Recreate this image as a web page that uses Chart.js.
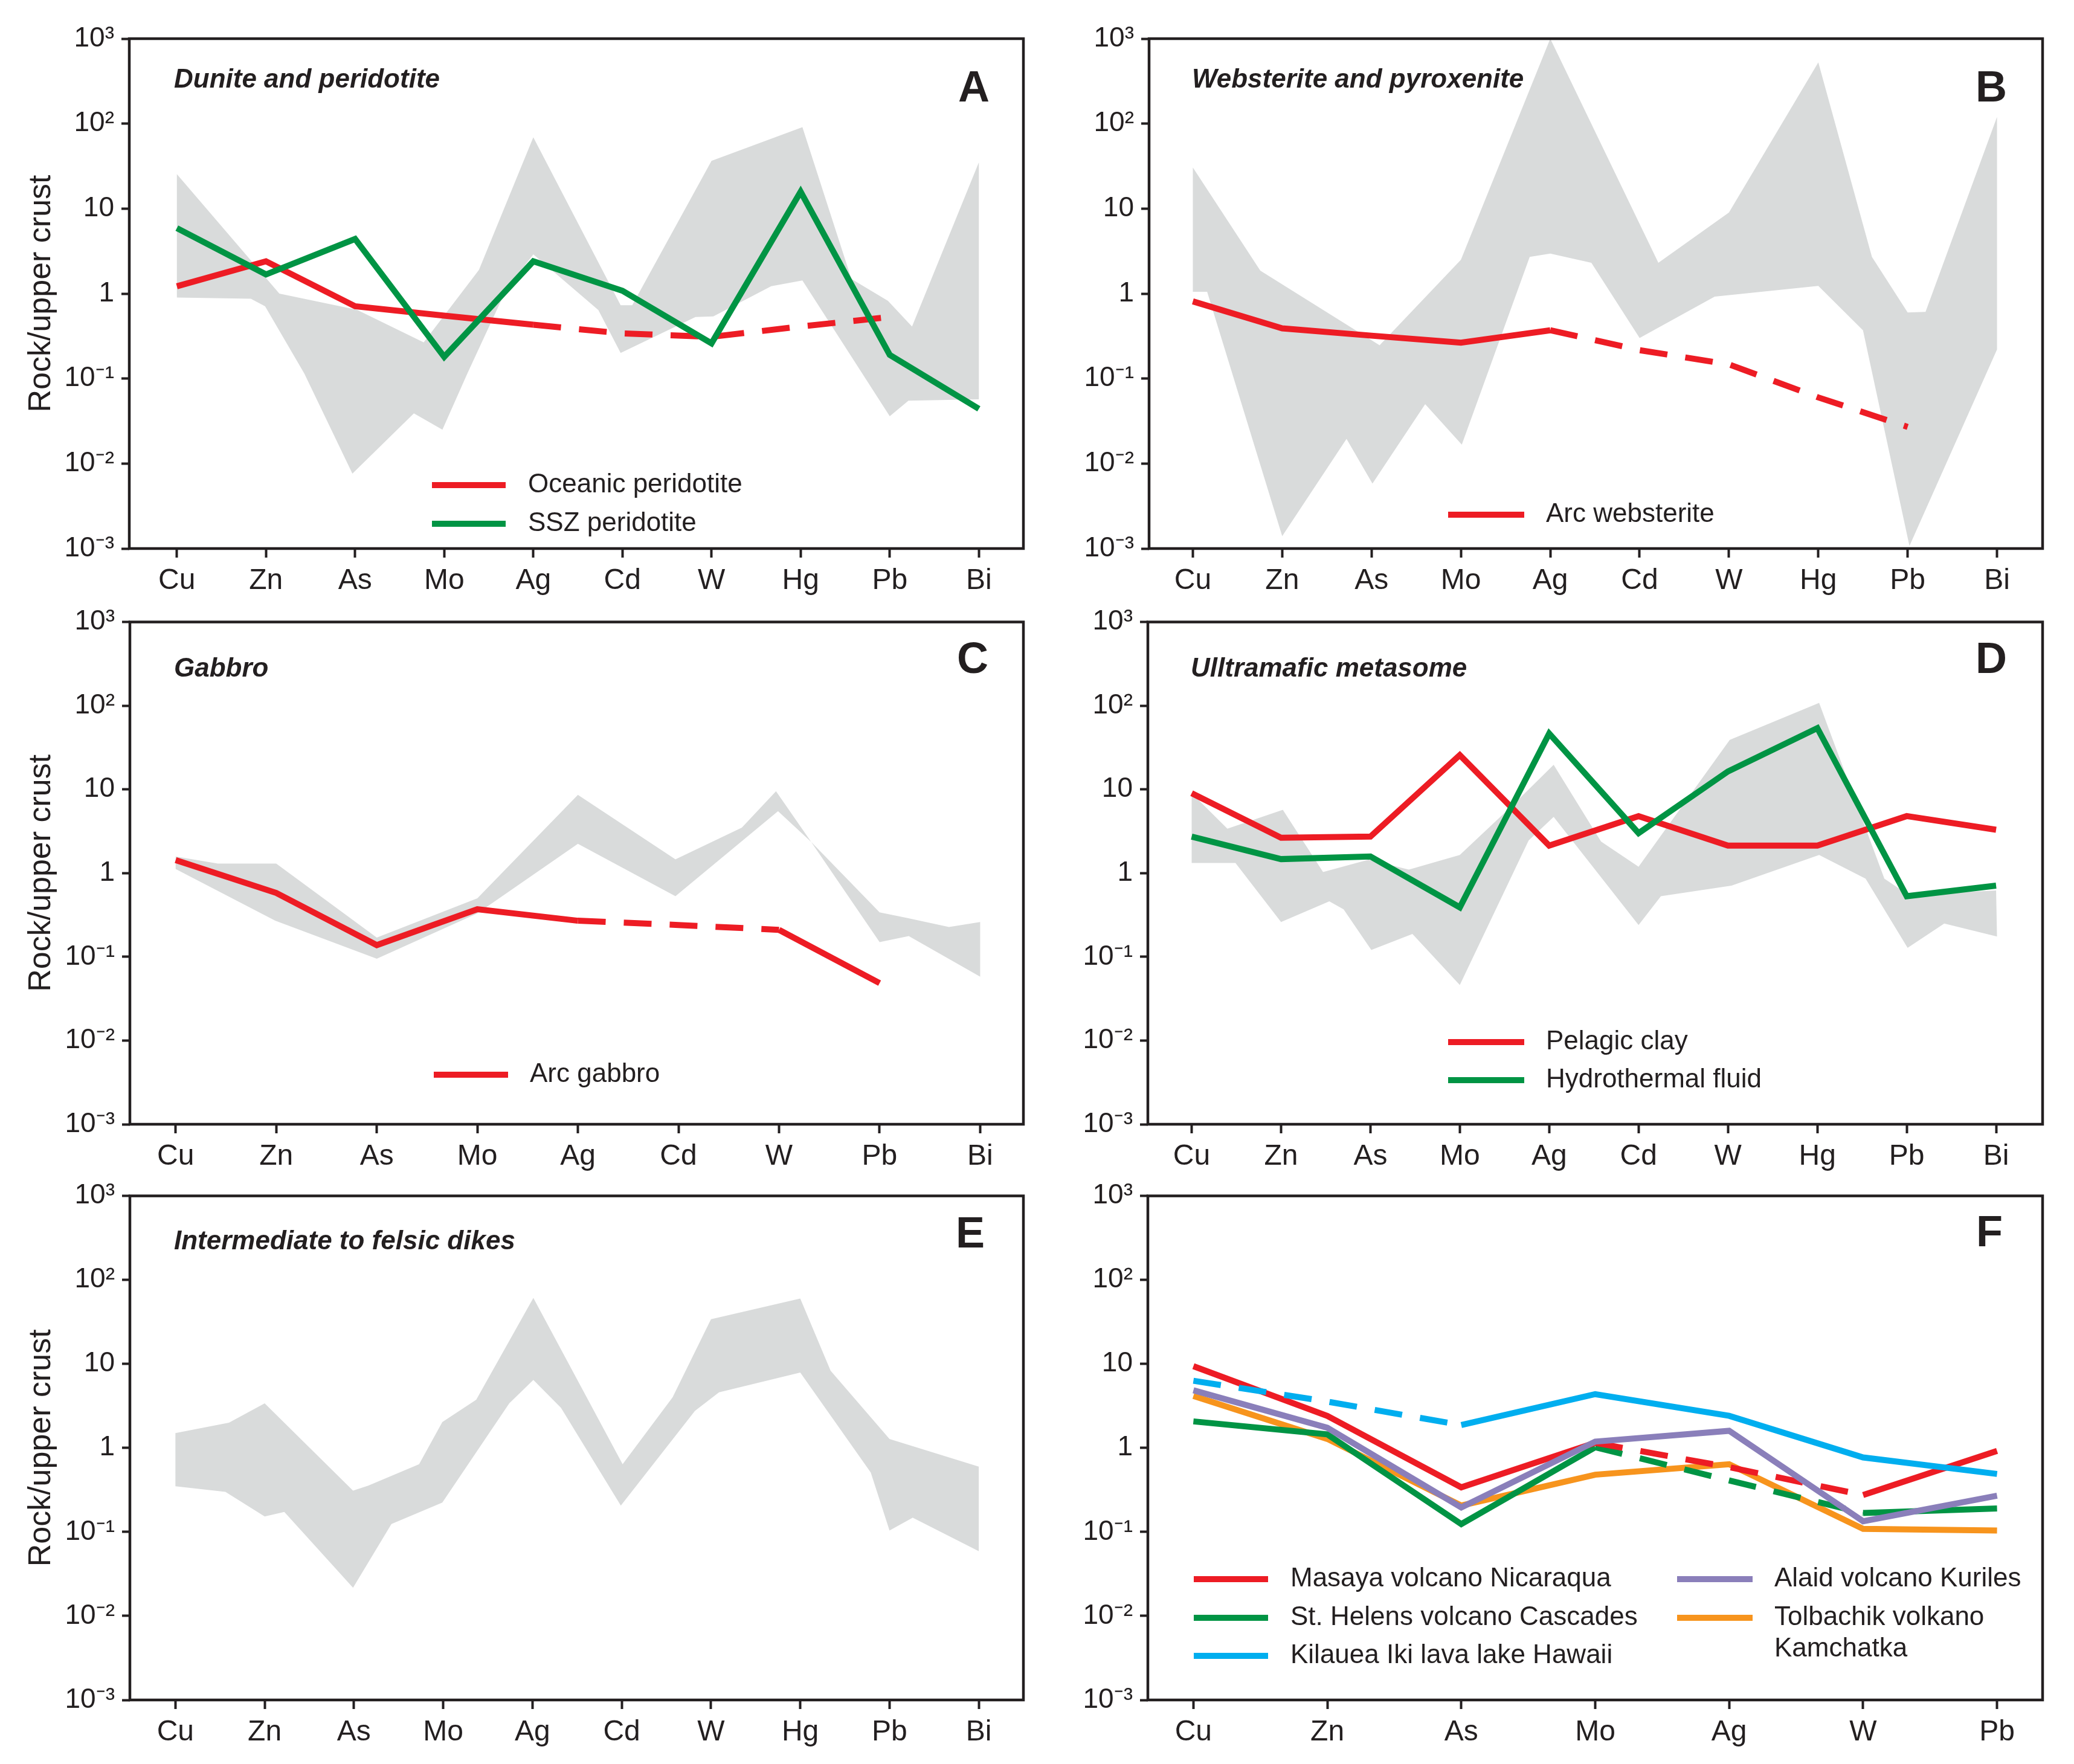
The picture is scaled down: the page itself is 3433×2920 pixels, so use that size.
<!DOCTYPE html>
<html>
<head>
<meta charset="utf-8">
<script src="https://cdn.jsdelivr.net/npm/chart.js@4.4.1/dist/chart.umd.min.js"></script>
<style>
  html, body { margin: 0; padding: 0; background: #fff; }
  #wrap { position: relative; width: 3433px; height: 2920px; background: #fff; }
  #wrap canvas { position: absolute; }
</style>
</head>
<body>
<div id="wrap">
  <canvas id="cA" width="1716" height="990" style="left:0px;top:0px"></canvas>
  <canvas id="cB" width="1717" height="990" style="left:1716px;top:0px"></canvas>
  <canvas id="cC" width="1716" height="950" style="left:0px;top:990px"></canvas>
  <canvas id="cD" width="1717" height="950" style="left:1716px;top:990px"></canvas>
  <canvas id="cE" width="1716" height="980" style="left:0px;top:1940px"></canvas>
  <canvas id="cF" width="1717" height="980" style="left:1716px;top:1940px"></canvas>
</div>
<script>
// categories
const elems = ['Cu', 'Zn', 'As', 'Mo', 'Ag', 'Cd', 'W', 'Hg', 'Pb', 'Bi'];
const elemsC = ['Cu', 'Zn', 'As', 'Mo', 'Ag', 'Cd', 'W', 'Pb', 'Bi'];
const elemsF = ['Cu', 'Zn', 'As', 'Mo', 'Ag', 'W', 'Pb'];
const yTicks = [0.001, 0.01, 0.1, 1, 10, 100, 1000];
const yTickLabels = ['10⁻³', '10⁻²', '10⁻¹', '1', '10', '10²', '10³'];

// A - Dunite and peridotite
const oceanicPeridotite = [1.22, 2.4, 0.71, 0.55, 0.43, 0.34, 0.31, 0.41, 0.53];
const oceanicDash = [[4, 8]];
const sszPeridotite = [5.9, 1.68, 4.4, 0.18, 2.4, 1.08, 0.26, 15.8, 0.19, 0.044];
const bandA_upX = [0, 1.15, 2.02, 2.77, 3.39, 4.0, 4.98, 5.11, 6.0, 7.02, 7.57, 7.98, 8.25, 9.0];
const bandA_up = [25.5, 1.0, 0.645, 0.267, 1.9, 69, 0.73, 0.73, 36.5, 91, 1.49, 0.82, 0.41, 35];
const bandA_loX = [0, 0.83, 0.99, 1.43, 1.97, 2.66, 2.98, 3.26, 3.69, 4.0, 4.73, 4.98, 5.82, 6.02, 6.67, 7.02, 8.0, 8.21, 9.0];
const bandA_lo = [0.9, 0.87, 0.71, 0.115, 0.0076, 0.039, 0.025, 0.115, 1.08, 2.9, 0.64, 0.2, 0.53, 0.54, 1.22, 1.43, 0.036, 0.055, 0.057];

// B - Websterite and pyroxenite
const arcWebsterite = [0.81, 0.39, 0.32, 0.265, 0.37, 0.216, 0.147, 0.06, 0.027];
const websteriteDash = [[4, 8]];
const bandB_upX = [0, 0.755, 2.09, 3.0, 4.0, 5.21, 6.0, 7.0, 7.6, 8.0, 8.2, 9.0];
const bandB_up = [30.5, 1.86, 0.247, 2.5, 1000, 2.3, 9.0, 525, 2.7, 0.6, 0.61, 120];
const bandB_loX = [0, 0.16, 1.0, 1.72, 2.01, 2.6, 3.01, 3.77, 4.0, 4.46, 5.0, 5.84, 7.0, 7.5, 8.02, 9.0];
const bandB_lo = [1.05, 1.05, 0.0014, 0.0195, 0.0058, 0.05, 0.0167, 2.7, 2.96, 2.3, 0.30, 0.92, 1.23, 0.37, 0.00107, 0.22];

// C - Gabbro
const arcGabbro = [1.43, 0.58, 0.138, 0.37, 0.27, 0.24, 0.21, 0.0485];
const gabbroDash = [[4, 6]];
const bandC_upX = [0, 0.42, 1.0, 2.0, 3.0, 4.0, 4.97, 5.63, 5.97, 6.32, 7.0, 7.28, 7.69, 8.0];
const bandC_up = [1.58, 1.3, 1.3, 0.17, 0.5, 8.6, 1.46, 3.5, 9.5, 2.36, 0.34, 0.29, 0.227, 0.26];
const bandC_loX = [0, 0.99, 2.0, 3.0, 4.0, 4.97, 5.99, 6.32, 7.0, 7.29, 8.0];
const bandC_lo = [1.12, 0.27, 0.095, 0.33, 2.24, 0.53, 5.5, 2.36, 0.15, 0.177, 0.058];

// D - Ultramafic metasome
const pelagicClay = [9.0, 2.65, 2.73, 25.7, 2.13, 4.8, 2.13, 2.13, 4.8, 3.3];
const hydrothermalFluid = [2.73, 1.47, 1.58, 0.39, 46.5, 3.0, 16.4, 54, 0.53, 0.71];
const bandD_upX = [0, 0.40, 1.02, 1.47, 1.98, 2.43, 3.0, 3.58, 4.05, 4.58, 5.0, 6.02, 7.02, 7.75, 8.02, 9.0];
const bandD_up = [9.0, 3.4, 5.7, 1.03, 1.45, 1.1, 1.65, 6.3, 19.7, 2.38, 1.19, 39, 108, 0.86, 0.55, 0.62];
const bandD_loX = [0, 0.49, 1.0, 1.54, 1.70, 2.01, 2.47, 3.0, 3.77, 4.05, 5.0, 5.25, 6.04, 7.02, 7.54, 8.01, 8.42, 9.01];
const bandD_lo = [1.32, 1.32, 0.26, 0.46, 0.37, 0.121, 0.188, 0.046, 2.46, 4.7, 0.24, 0.53, 0.71, 1.65, 0.86, 0.128, 0.25, 0.175];

// E - Intermediate to felsic dikes
const bandE_upX = [0, 0.6, 1.0, 1.99, 2.16, 2.73, 2.99, 3.37, 4.01, 5.01, 5.57, 6.0, 7.0, 7.34, 8.0, 9.0];
const bandE_up = [1.5, 2.0, 3.4, 0.31, 0.355, 0.64, 2.03, 3.75, 61, 0.64, 4.0, 34, 60, 8.3, 1.28, 0.6];
const bandE_loX = [0, 0.56, 1.0, 1.22, 1.99, 2.42, 2.99, 3.74, 4.01, 4.32, 4.99, 5.82, 6.09, 7.0, 7.79, 8.0, 8.26, 9.0];
const bandE_lo = [0.35, 0.3, 0.153, 0.173, 0.0217, 0.124, 0.224, 3.4, 6.45, 3.0, 0.206, 2.76, 4.6, 7.9, 0.51, 0.104, 0.148, 0.059];

// F - volcanic gases
const masaya = [9.4, 2.4, 0.34, 1.15, 0.59, 0.275, 0.92];
const masayaDash = [[3, 5]];
const stHelens = [2.07, 1.45, 0.124, 1.02, 0.41, 0.168, 0.19];
const stHelensDash = [[3, 5]];
const kilauea = [6.3, 3.56, 1.87, 4.37, 2.41, 0.77, 0.49];
const kilaueaDash = [[0, 2]];
const alaid = [4.85, 1.74, 0.196, 1.19, 1.6, 0.134, 0.27];
const tolbachik = [4.15, 1.28, 0.206, 0.48, 0.64, 0.109, 0.104];

const ink = '#231f20';
const grey = '#d9dbdb';
const cRed = '#ed1c24', cGreen = '#009444', cBlue = '#00aeef', cPurple = '#8a7fba', cOrange = '#f7941d';
const FONT = "'Liberation Sans', Arial, sans-serif";

function pts(xs, ys) { return xs.map((x, i) => ({ x: x, y: ys[i] })); }
function polygon(ux, uy, lx, ly) { return pts(ux, uy).concat(pts(lx, ly).reverse()); }

function bandSet(poly) {
  return { label: 'range', data: poly, fill: 'shape', backgroundColor: grey,
    borderColor: 'rgba(0,0,0,0)', borderWidth: 0, pointRadius: 0, tension: 0, order: 100 };
}

function lineSet(label, vals, color, dashes, order) {
  const ranges = dashes || [];
  return {
    label: label, data: vals.map((v, i) => ({ x: i, y: v })),
    borderColor: color, backgroundColor: color, borderWidth: 10, pointRadius: 0,
    fill: false, tension: 0, borderCapStyle: 'butt', borderJoinStyle: 'miter', order: order,
    segment: {
      borderDash: c => ranges.some(r => c.p0DataIndex >= r[0] && c.p1DataIndex <= r[1]) ? [46, 30] : undefined
    }
  };
}

function overlay(p) {
  return {
    id: 'overlay',
    afterDatasetsDraw(chart) {
      const ctx = chart.ctx, a = chart.chartArea;
      ctx.save();
      ctx.setLineDash([]);
      ctx.strokeStyle = ink;
      ctx.lineWidth = 4.5;
      ctx.strokeRect(a.left, a.top, a.right - a.left, a.bottom - a.top);
      ctx.fillStyle = ink;
      ctx.textBaseline = 'middle';
      if (p.sub) {
        ctx.font = 'italic bold 44px ' + FONT;
        ctx.textAlign = 'left';
        ctx.fillText(p.sub[0], p.sub[1], p.sub[2]);
      }
      ctx.font = 'bold 72px ' + FONT;
      ctx.textAlign = 'center';
      ctx.fillText(p.letter[0], p.letter[1], p.letter[2]);

      // legend
      ctx.font = '44px ' + FONT;
      ctx.textAlign = 'left';
      (p.legend || []).forEach(e => {
        const ds = chart.data.datasets[e.i];
        ctx.strokeStyle = ds.borderColor;
        ctx.lineWidth = 10;
        ctx.lineCap = 'butt';
        ctx.beginPath();
        ctx.moveTo(e.x1, e.y);
        ctx.lineTo(e.x2, e.y);
        ctx.stroke();
        const lines = e.lines || [ds.label];
        lines.forEach((t, k) => ctx.fillText(t, e.tx, e.y + k * 52));
      });
      ctx.restore();
    }
  };
}

function makeChart(id, p) {
  const W = p.W, H = p.H, area = p.area, cats = p.cats;
  new Chart(document.getElementById(id), {
    type: 'line',
    data: { datasets: p.datasets },
    options: {
      responsive: false,
      animation: false,
      devicePixelRatio: 1,
      layout: { padding: { left: 0, top: area.top, right: W - area.right, bottom: 0 } },
      plugins: { legend: { display: false }, tooltip: { enabled: false } },
      scales: {
        x: {
          type: 'linear', min: p.xmin, max: p.xmax,
          afterBuildTicks: s => { s.ticks = cats.map((c, i) => ({ value: i })); },
          afterFit: s => { s.height = H - area.bottom; },
          ticks: {
            callback: (v, i) => cats[i], autoSkip: false, maxRotation: 0,
            color: ink, padding: 10, font: { family: FONT, size: 48 }
          },
          grid: { drawOnChartArea: false, drawTicks: true, tickLength: 15, tickWidth: 4, color: ink },
          border: { display: false }
        },
        y: {
          type: 'logarithmic', min: 0.001, max: 1000,
          afterBuildTicks: s => { s.ticks = yTicks.map(v => ({ value: v })); },
          afterFit: s => { s.width = area.left; },
          ticks: {
            callback: (v, i) => yTickLabels[i], autoSkip: false,
            color: ink, padding: 12, font: { family: FONT, size: 46 }
          },
          grid: { drawOnChartArea: false, drawTicks: true, tickLength: 13, tickWidth: 4, color: ink },
          border: { display: false },
          title: {
            display: !!p.yTitle, text: 'Rock/upper crust', color: ink,
            font: { family: FONT, size: 52 }, padding: { top: 37, bottom: 0 }
          }
        }
      }
    },
    plugins: [overlay(p)]
  });
}

makeChart('cA', {
  W: 1716, H: 990, area: { left: 214, right: 1694, top: 64, bottom: 908 },
  xmin: -0.534, xmax: 9.5, cats: elems, yTitle: true,
  datasets: [
    lineSet('SSZ peridotite', sszPeridotite, cGreen, null, 1),
    lineSet('Oceanic peridotite', oceanicPeridotite, cRed, oceanicDash, 2),
    bandSet(polygon(bandA_upX, bandA_up, bandA_loX, bandA_lo))
  ],
  sub: ['Dunite and peridotite', 288, 133], letter: ['A', 1612, 148],
  legend: [
    { i: 1, x1: 715, x2: 837, y: 803, tx: 874 },
    { i: 0, x1: 715, x2: 837, y: 867, tx: 874 }
  ]
});

makeChart('cB', {
  W: 1717, H: 990, area: { left: 186, right: 1665, top: 64, bottom: 908 },
  xmin: -0.49, xmax: 9.51, cats: elems, yTitle: false,
  datasets: [
    lineSet('Arc websterite', arcWebsterite, cRed, websteriteDash, 1),
    bandSet(polygon(bandB_upX, bandB_up, bandB_loX, bandB_lo))
  ],
  sub: ['Websterite and pyroxenite', 257, 133], letter: ['B', 1580, 148],
  legend: [{ i: 0, x1: 681, x2: 807, y: 852, tx: 843 }]
});

makeChart('cC', {
  W: 1716, H: 950, area: { left: 215, right: 1694, top: 28, bottom: 871 },
  xmin: -0.455, xmax: 8.43, cats: elemsC, yTitle: true,
  datasets: [
    lineSet('Arc gabbro', arcGabbro, cRed, gabbroDash, 1),
    bandSet(polygon(bandC_upX, bandC_up, bandC_loX, bandC_lo))
  ],
  sub: ['Gabbro', 288, 118], letter: ['C', 1610, 104],
  legend: [{ i: 0, x1: 718, x2: 841, y: 789, tx: 877 }]
});

makeChart('cD', {
  W: 1717, H: 950, area: { left: 184, right: 1665, top: 28, bottom: 871 },
  xmin: -0.49, xmax: 9.52, cats: elems, yTitle: false,
  datasets: [
    lineSet('Hydrothermal fluid', hydrothermalFluid, cGreen, null, 1),
    lineSet('Pelagic clay', pelagicClay, cRed, null, 2),
    bandSet(polygon(bandD_upX, bandD_up, bandD_loX, bandD_lo))
  ],
  sub: ['Ulltramafic metasome', 255, 118], letter: ['D', 1580, 104],
  legend: [
    { i: 1, x1: 681, x2: 807, y: 735, tx: 843 },
    { i: 0, x1: 681, x2: 807, y: 798, tx: 843 }
  ]
});

makeChart('cE', {
  W: 1716, H: 980, area: { left: 215, right: 1694, top: 29, bottom: 874 },
  xmin: -0.51, xmax: 9.5, cats: elems, yTitle: true,
  datasets: [bandSet(polygon(bandE_upX, bandE_up, bandE_loX, bandE_lo))],
  sub: ['Intermediate to felsic dikes', 288, 116], letter: ['E', 1606, 105],
  legend: []
});

makeChart('cF', {
  W: 1717, H: 980, area: { left: 184, right: 1665, top: 29, bottom: 874 },
  xmin: -0.34, xmax: 6.34, cats: elemsF, yTitle: false,
  datasets: [
    lineSet('Masaya volcano Nicaraqua', masaya, cRed, masayaDash, 3),
    lineSet('St. Helens volcano Cascades', stHelens, cGreen, stHelensDash, 4),
    lineSet('Kilauea Iki lava lake Hawaii', kilauea, cBlue, kilaueaDash, 1),
    lineSet('Alaid volcano Kuriles', alaid, cPurple, null, 2),
    lineSet('Tolbachik volkano Kamchatka', tolbachik, cOrange, null, 5)
  ],
  sub: null, letter: ['F', 1577, 103],
  legend: [
    { i: 0, x1: 260, x2: 383, y: 674, tx: 420 },
    { i: 1, x1: 260, x2: 383, y: 738, tx: 420 },
    { i: 2, x1: 260, x2: 383, y: 801, tx: 420 },
    { i: 3, x1: 1060, x2: 1185, y: 674, tx: 1221 },
    { i: 4, x1: 1060, x2: 1185, y: 738, tx: 1221, lines: ['Tolbachik volkano', 'Kamchatka'] }
  ]
});
</script>
</body>
</html>
